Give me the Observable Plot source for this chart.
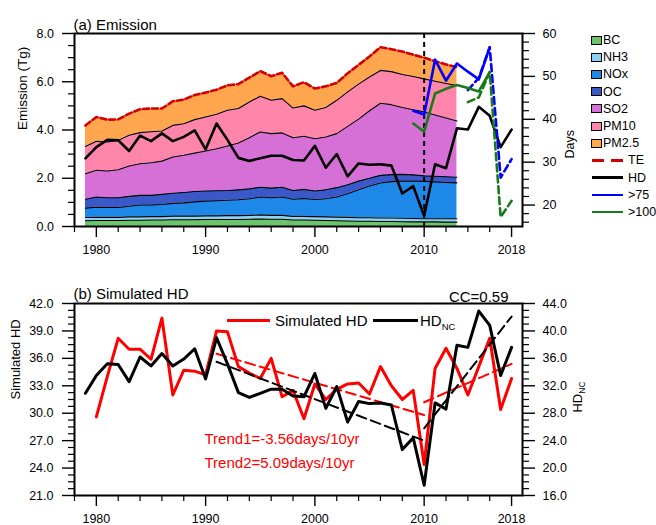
<!DOCTYPE html>
<html><head><meta charset="utf-8">
<script src="https://cdn.jsdelivr.net/npm/d3@7"></script>
<script src="https://cdn.jsdelivr.net/npm/@observablehq/plot@0.6"></script>
<style>
body{margin:0;background:#fff;font-family:"Liberation Sans",Arial,Helvetica,sans-serif;}
#chart{position:relative;width:656px;height:525px;overflow:hidden;background:#fff;}
.lg{position:absolute;font-size:12.5px;line-height:14px;white-space:nowrap;color:#000;}
.bx{position:absolute;width:9px;height:7px;border:1px solid #000;}
.ln{position:absolute;height:2.5px;}
</style></head><body><div id="chart"></div>
<script>
// ---------------- data ----------------
const emisYears = [1979,1980,1981,1982,1983,1984,1985,1986,1987,1988,1989,1990,1991,1992,1993,1994,1995,1996,1997,1998,1999,2000,2001,2002,2003,2004,2005,2006,2007,2008,2009,2010,2011,2012,2013];
const species = ["BC","NH3","NOx","OC","SO2","PM10","PM2.5"];
const speciesColors = ["#6cc46c","#8dd2f5","#1e88e8","#3a58c8","#d670d6","#ff86aa","#ffa64f"];
const BC   = [0.24,0.25,0.25,0.25,0.26,0.26,0.27,0.27,0.28,0.28,0.28,0.29,0.29,0.29,0.29,0.30,0.31,0.30,0.30,0.27,0.27,0.26,0.25,0.24,0.23,0.22,0.22,0.21,0.21,0.20,0.19,0.19,0.19,0.18,0.18];
const NH3  = [0.13,0.13,0.13,0.13,0.14,0.14,0.14,0.14,0.15,0.15,0.15,0.15,0.15,0.16,0.16,0.16,0.17,0.16,0.16,0.15,0.15,0.15,0.15,0.15,0.15,0.14,0.14,0.14,0.14,0.14,0.14,0.13,0.13,0.14,0.14];
const NOx  = [0.39,0.42,0.41,0.41,0.44,0.49,0.48,0.50,0.53,0.55,0.59,0.61,0.63,0.64,0.66,0.69,0.74,0.73,0.76,0.71,0.74,0.71,0.75,0.83,0.98,1.16,1.32,1.45,1.51,1.54,1.55,1.55,1.53,1.51,1.49];
const OC   = [0.37,0.42,0.40,0.40,0.41,0.40,0.40,0.42,0.42,0.43,0.43,0.42,0.41,0.40,0.41,0.41,0.41,0.40,0.41,0.36,0.38,0.35,0.37,0.39,0.37,0.36,0.32,0.32,0.29,0.28,0.26,0.23,0.23,0.23,0.23];
const SO2  = [1.06,1.11,1.11,1.16,1.26,1.31,1.35,1.38,1.50,1.54,1.59,1.66,1.74,1.85,1.94,2.12,2.29,2.26,2.25,2.19,2.20,2.17,2.19,2.24,2.42,2.57,2.80,2.99,2.90,2.77,2.70,2.65,2.54,2.44,2.33];
const PM10 = [1.13,1.20,1.20,1.22,1.27,1.29,1.29,1.25,1.31,1.31,1.39,1.41,1.43,1.48,1.43,1.48,1.48,1.38,1.42,1.23,1.26,1.18,1.22,1.38,1.43,1.45,1.40,1.36,1.37,1.37,1.38,1.37,1.40,1.43,1.47];
const PM25 = [0.87,1.01,0.93,0.87,0.90,0.97,0.96,0.93,1.00,1.00,1.02,1.01,1.02,1.03,1.01,1.01,1.04,1.00,1.07,0.90,0.98,0.90,0.88,0.72,0.77,0.80,0.85,0.96,0.93,0.95,0.90,0.88,0.83,0.79,0.76];
const TE   = [4.19,4.54,4.43,4.44,4.68,4.86,4.89,4.89,5.19,5.26,5.45,5.55,5.67,5.85,5.90,6.17,6.44,6.23,6.37,5.81,5.98,5.72,5.81,5.95,6.35,6.70,7.05,7.43,7.35,7.25,7.12,7.00,6.85,6.72,6.60];

const hdYears = [1979,1980,1981,1982,1983,1984,1985,1986,1987,1988,1989,1990,1991,1992,1993,1994,1995,1996,1997,1998,1999,2000,2001,2002,2003,2004,2005,2006,2007,2008,2009,2010,2011,2012,2013,2014,2015,2016,2017,2018];
const hdNC = [30.9,33.5,35.2,35.1,32.6,36.2,34.9,36.7,34.9,35.9,37.4,33.0,39.0,35.2,31.0,30.3,30.9,31.5,31.5,30.5,30.4,33.8,28.7,31.9,26.7,29.7,29.4,29.5,29.2,22.7,24.4,17.5,29.5,28.6,37.9,37.6,42.9,40.8,33.5,37.6];
const simYears = [1980,1981,1982,1983,1984,1985,1986,1987,1988,1989,1990,1991,1992,1993,1994,1995,1996,1997,1998,1999,2000,2001,2002,2003,2004,2005,2006,2007,2008,2009,2010,2011,2012,2013,2014,2015,2016,2017,2018];
const simHD = [29.6,34.0,38.2,37.0,37.0,35.9,40.4,32.0,34.7,34.6,34.2,39.0,38.9,35.1,34.4,33.8,36.0,31.8,32.5,29.4,33.2,31.5,32.6,33.2,33.3,32.1,35.1,33.0,31.5,32.5,24.4,34.9,37.1,34.9,32.0,35.1,38.2,30.4,33.8];

const obsYears = [2009,2010,2011,2012,2013,2014,2015,2016];
const over75Solid  = [42.0,41.1,53.9,49.0,53.0,51.1,49.3,56.8];
const over100Solid = [39.0,37.1,46.0,47.1,48.0,47.3,46.5,51.0];
const fcYears = [2014,2015,2016,2017,2018];
const over75Dashed  = [46.8,49.6,56.8,26.4,30.7];
const over100Dashed = [44.0,45.1,51.0,17.2,21.0];

const trendYears1 = [1991, 2010];
const trendYears2 = [2010, 2018];
const redTrend1 = [36.5, 29.8];
const redTrend2 = [31.2, 35.4];
const blackTrend1 = [35.5, 24.0];
const blackTrend2 = [25.8, 42.1];

const xMajor = [1980,1990,2000,2010,2018];
const xMinor = [1978,1982,1984,1986,1988,1992,1994,1996,1998,2002,2004,2006,2008,2012,2014,2016];
const emisMajor = [0,2,4,6,8];
const emisMinor = d3.range(0.5, 8, 0.5).filter(v => v % 2 !== 0);
const daysMajor = [20,30,40,50,60];
const daysMinor = [16,18,22,24,26,28,32,34,36,38,42,44,46,48,52,54,56,58];
const simMajor = [21,24,27,30,33,36,39,42];
const simMinor = d3.range(21, 42, 0.75).filter(v => v % 3 !== 0);
const ncMajor = [16,20,24,28,32,36,40,44];
const ncMinor = d3.range(17, 44, 1).filter(v => v % 4 !== 0);

// ---------------- build ----------------
const layerValues = [BC, NH3, NOx, OC, SO2, PM10, PM25];
const emis = [];
species.forEach((s, i) => emisYears.forEach((yr, j) => emis.push({year: yr, species: s, value: layerValues[i][j]})));

const FONT = '"Liberation Sans", Arial, Helvetica, sans-serif';
const chart = document.getElementById("chart");
const xDomain = [1978, 2019];
const base = (H, mt, mb) => ({
  width: 656, height: H, marginLeft: 74, marginRight: 134, marginTop: mt, marginBottom: mb,
  style: {fontFamily: FONT, fontSize: "12.5px", background: "transparent", overflow: "visible", color: "#000"}
});
const xAxes = (pad) => [
  Plot.axisX({ticks: xMajor, tickSize: 11, tickPadding: pad, tickFormat: d3.format("d"), label: null, strokeWidth: 1.4}),
  Plot.axisX({ticks: xMinor, tickSize: 6, tickFormat: () => "", label: null, strokeWidth: 1.2})
];
const yAxes = (anchor, major, minor, fmt, pad) => [
  Plot.axisY({anchor, ticks: major, tickSize: 12, tickPadding: pad, tickFormat: fmt, label: null, strokeWidth: 1.4}),
  Plot.axisY({anchor, ticks: minor, tickSize: 6, tickFormat: () => "", label: null, strokeWidth: 1.2})
];
function place(svg, top) {
  svg.style.position = "absolute"; svg.style.left = "0px"; svg.style.top = top + "px";
  chart.appendChild(svg);
}

// Panel (a) left: stacked emissions
const pa1 = Plot.plot({
  ...base(262, 33, 36),
  x: {domain: xDomain, label: null},
  y: {domain: [0, 8], label: null},
  color: {domain: species, range: speciesColors},
  marks: [
    Plot.areaY(emis, {x: "year", y: "value", z: "species", fill: "species"}),
    Plot.lineY(emis.filter(d => d.species !== "PM2.5"), Plot.stackY2({x: "year", y: "value", z: "species", stroke: "#000", strokeWidth: 1.1})),
    Plot.lineY(TE, {x: emisYears, stroke: "#d40000", strokeWidth: 2.6, strokeDasharray: "6,3"}),
    ...xAxes(8),
    ...yAxes("left", emisMajor, emisMinor, d3.format(".1f"), 8.5),
    Plot.text(["Emission (Tg)"], {frameAnchor: "left", dx: -52, rotate: -90, fontSize: 13.5}),
    Plot.text(["(a) Emission"], {frameAnchor: "top-left", dx: -1, dy: -14, textAnchor: "start", fontSize: 15})
  ]
});
place(pa1, 0);

// Panel (a) right: days
const pa2 = Plot.plot({
  ...base(262, 33, 36),
  x: {domain: xDomain, axis: null},
  y: {domain: [15, 60], label: null},
  marks: [
    Plot.ruleX([2010], {stroke: "#000", strokeWidth: 2, strokeDasharray: "5,4"}),
    Plot.lineY(hdNC, {x: hdYears, stroke: "#000", strokeWidth: 2.6}),
    Plot.lineY(over75Solid, {x: obsYears, stroke: "#0000ff", strokeWidth: 2.6}),
    Plot.lineY(over75Dashed, {x: fcYears, stroke: "#0000ff", strokeWidth: 2.6, strokeDasharray: "7,4"}),
    Plot.lineY(over100Solid, {x: obsYears, stroke: "#1a7a1a", strokeWidth: 2.6}),
    Plot.lineY(over100Dashed, {x: fcYears, stroke: "#1a7a1a", strokeWidth: 2.6, strokeDasharray: "7,4"}),
    ...yAxes("right", daysMajor, daysMinor, d3.format("d"), 8),
    Plot.text(["Days"], {frameAnchor: "right", dx: 47, rotate: -90, fontSize: 12.5}),
    Plot.frame({stroke: "#000", strokeWidth: 2})
  ]
});
place(pa2, 0);

// Panel (b) left: simulated HD
const pb1 = Plot.plot({
  ...base(263, 41, 30),
  x: {domain: xDomain, label: null},
  y: {domain: [21, 42], label: null},
  marks: [
    Plot.lineY(simHD, {x: simYears, stroke: "#ff0000", strokeWidth: 3}),
    Plot.lineY(redTrend1, {x: trendYears1, stroke: "#ff0000", strokeWidth: 2, strokeDasharray: "10,5"}),
    Plot.lineY(redTrend2, {x: trendYears2, stroke: "#ff0000", strokeWidth: 2, strokeDasharray: "10,5"}),
    ...xAxes(8),
    ...yAxes("left", simMajor, simMinor, d3.format(".1f"), 9),
    Plot.text(["Simulated HD"], {frameAnchor: "left", dx: -59, rotate: -90, fontSize: 13}),
    Plot.text(["(b) Simulated HD"], {frameAnchor: "top-left", dx: -1, dy: -15, textAnchor: "start", fontSize: 15}),
    Plot.text(["Trend1=-3.56days/10yr"], {frameAnchor: "bottom-left", dx: 130, dy: -52, textAnchor: "start", fill: "#ff0000", fontSize: 15}),
    Plot.text(["Trend2=5.09days/10yr"], {frameAnchor: "bottom-left", dx: 130, dy: -28, textAnchor: "start", fill: "#ff0000", fontSize: 15})
  ]
});
place(pb1, 262);

// Panel (b) right: HD_NC
const pb2 = Plot.plot({
  ...base(263, 41, 30),
  x: {domain: xDomain, axis: null},
  y: {domain: [16, 44], label: null},
  marks: [
    Plot.lineY(hdNC, {x: hdYears, stroke: "#000", strokeWidth: 3}),
    Plot.lineY(blackTrend1, {x: trendYears1, stroke: "#000", strokeWidth: 2, strokeDasharray: "10,5"}),
    Plot.lineY(blackTrend2, {x: trendYears2, stroke: "#000", strokeWidth: 2, strokeDasharray: "10,5"}),
    ...yAxes("right", ncMajor, ncMinor, d3.format(".1f"), 8),
    Plot.text(["CC=0.59"], {frameAnchor: "top-right", dx: -14, dy: -12, textAnchor: "end", fontSize: 15}),
    Plot.frame({stroke: "#000", strokeWidth: 2})
  ]
});
place(pb2, 262);

// ---------------- legends (HTML) ----------------
function el(cls, css, html) {
  const d = document.createElement("div");
  d.className = cls; d.style.cssText = css; if (html != null) d.innerHTML = html;
  chart.appendChild(d); return d;
}
const rowY = i => 40 + i * 17.2;
species.forEach((s, i) => {
  el("bx", `left:591px;top:${rowY(i) - 4.5}px;background:${speciesColors[i]};`);
  el("lg", `left:603px;top:${rowY(i) - 7}px;`, s);
});
const lineItems = [
  {label: "TE", bg: "repeating-linear-gradient(90deg,#d40000 0 12px,transparent 12px 19px)"},
  {label: "HD", bg: "#000"},
  {label: ">75", bg: "#0000ff"},
  {label: ">100", bg: "#1a7a1a"}
];
lineItems.forEach((it, k) => {
  const y = rowY(species.length + k);
  el("ln", `left:592px;top:${y - 1.25}px;width:31px;background:${it.bg};`);
  el("lg", `left:628px;top:${y - 7}px;`, it.label.replace(">", "&gt;"));
});

// panel (b) legend
el("ln", "left:227px;top:319.2px;width:43px;height:3px;background:#ff0000;");
el("lg", "left:275px;top:312.5px;font-size:15px;line-height:16px;", "Simulated HD");
el("ln", "left:373px;top:319.2px;width:45px;height:3px;background:#000;");
el("lg", "left:420px;top:312.5px;font-size:15px;line-height:16px;", 'HD<span style="font-size:9.5px;position:relative;top:4px;">NC</span>');

// right axis label HD_NC
el("lg", "left:578px;top:397px;font-size:13px;line-height:14px;transform:translate(-50%,-50%) rotate(-90deg);", 'HD<span style="font-size:8.5px;position:relative;top:3px;">NC</span>');
</script></body></html>
